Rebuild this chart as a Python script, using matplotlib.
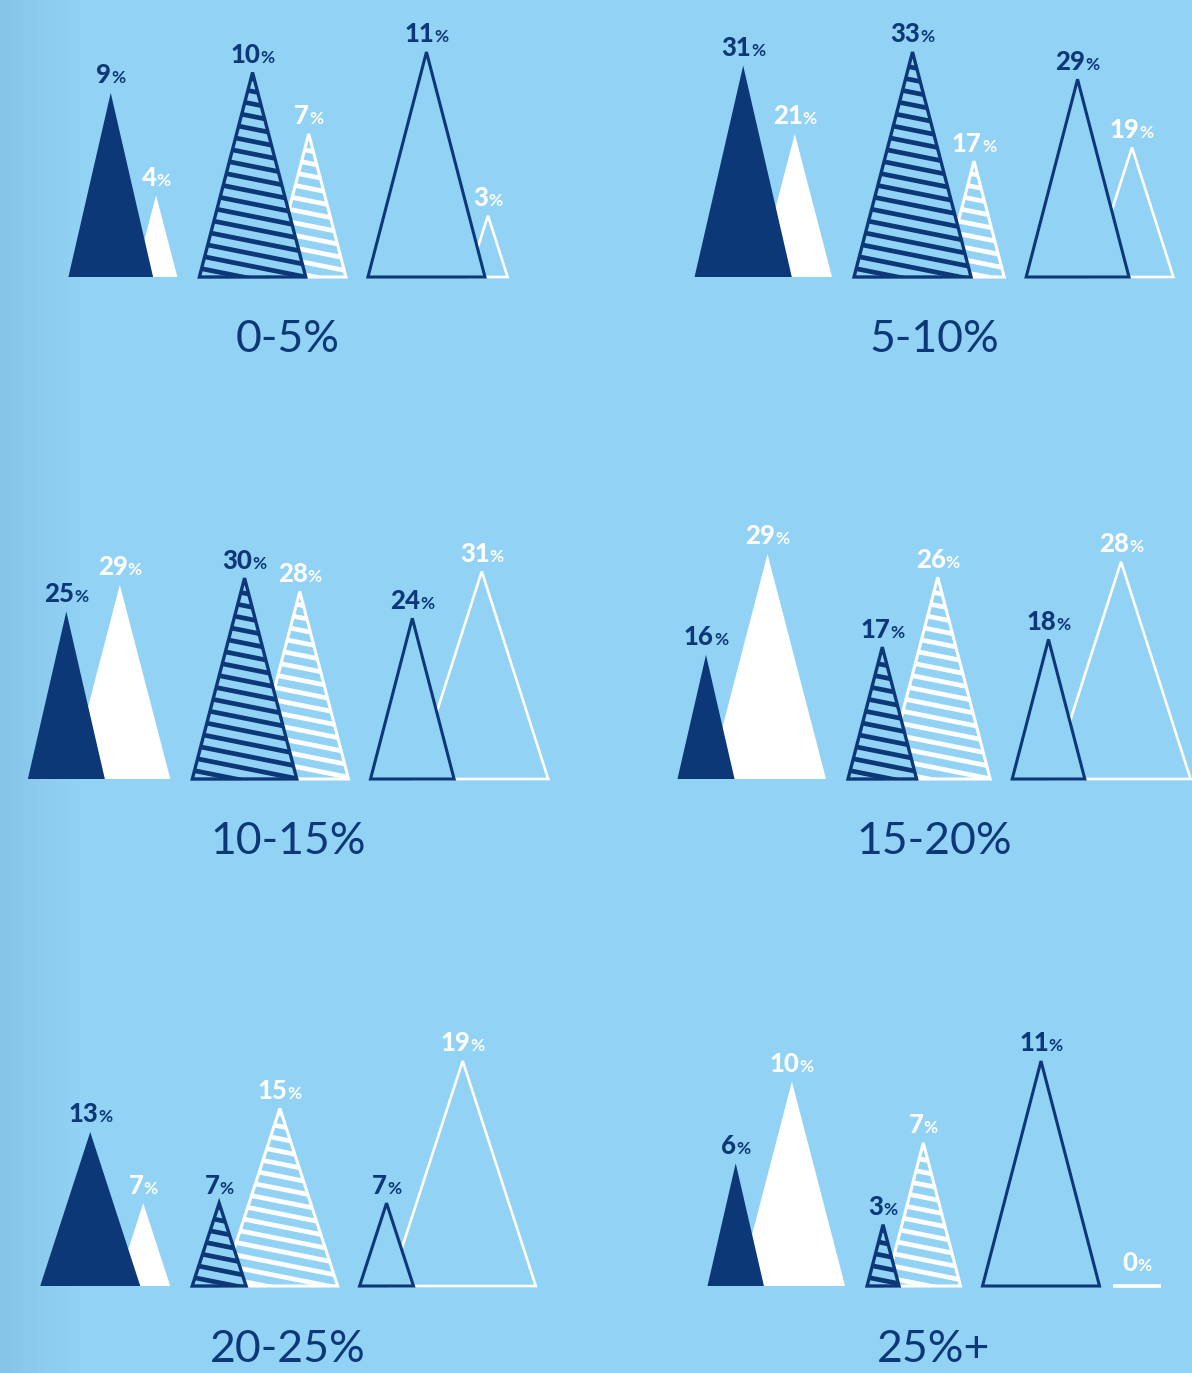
import numpy as np
import matplotlib
matplotlib.use("Agg")
import matplotlib.pyplot as plt
from matplotlib.patches import Polygon
from matplotlib.offsetbox import TextArea, HPacker, AnnotationBbox

# data: for each band, values for (navy, white) pairs in three styles
bands = ["0-5%", "5-10%", "10-15%", "15-20%", "20-25%", "25%+"]
navy_filled = [9, 31, 25, 16, 13, 6]
white_filled = [4, 21, 29, 29, 7, 10]
navy_hatched = [10, 33, 30, 17, 7, 3]
white_hatched = [7, 17, 28, 26, 15, 7]
navy_outline = [11, 29, 24, 18, 7, 11]
white_outline = [3, 19, 31, 28, 19, 0]

# value that reaches the full triangle height in each panel
scale_top = [11, 33, 33.6, 29, 19, 11]

NAVY = "#0C3878"
BG = "#92D2F4"
W, H = 1192, 1373

fig = plt.figure(figsize=(W / 100, H / 100), dpi=100)

# background with a slight gradient on the left edge
bg = fig.add_axes([0, 0, 1, 1], zorder=-10)
grad = np.ones((2, W, 3))
left = np.array([0x87, 0xC5, 0xE8]) / 255
right = np.array([0x92, 0xD2, 0xF4]) / 255
t = np.clip(np.arange(W) / 80.0, 0, 1)[:, None]
grad[:] = left * (1 - t) + right * t
bg.imshow(grad, aspect="auto", extent=[0, 1, 0, 1])
bg.axis("off")

col_x0 = [0, 596]
col_center = [288, 338]
base_px = [277, 779, 1286]
max_h = 225.0
gap = 22
ratios = {"filled": (0.46, 0.52), "hatched": (0.52, 0.52), "outline": (0.52, 0.64)}
wide_panels = {4: 0.65}

lab_num = dict(family=["Lato", "DejaVu Sans"], weight="black", size=18.5)
lab_pct = dict(family=["Lato", "DejaVu Sans"], weight="bold", size=12.5)


def label(ax, x, y, val, color):
    a = TextArea(str(val), textprops=dict(color=color, **lab_num))
    b = TextArea("%", textprops=dict(color=color, **lab_pct))
    box = HPacker(children=[a, b], align="baseline", pad=0, sep=0)
    ab = AnnotationBbox(box, (x, y), xybox=(0, 4), xycoords="data",
                        boxcoords="offset points", box_alignment=(0.5, 0),
                        frameon=False, zorder=10)
    ax.add_artist(ab)


def stripes(ax, patch, x0, x1, top, top_val, color, z):
    # slightly tilted stripes clipped to the triangle
    per_px = top_val / max_h
    step = 12.5 * per_px
    slope = 0.2 * per_px
    xs = np.array([x0 - 5, x1 + 5])
    c = -step * 0.3
    while c < top + slope * (x1 - x0) + step:
        ys = c - slope * (xs - x0)
        ln, = ax.plot(xs, ys, color=color, lw=3.4, solid_capstyle="butt", zorder=z)
        ln.set_clip_path(patch)
        c += step


for i, band in enumerate(bands):
    row, col = divmod(i, 2)
    pairs = [("filled", navy_filled[i], white_filled[i]),
             ("hatched", navy_hatched[i], white_hatched[i]),
             ("outline", navy_outline[i], white_outline[i])]
    top_val = scale_top[i]
    px = max_h / top_val

    # axes: x in pixels within the panel, y in value units
    below, above = 110, 290
    bottom_px = base_px[row] + below
    ax = fig.add_axes([col_x0[col] / W, 1 - bottom_px / H, 596 / W, (below + above) / H])
    ax.set_xlim(0, 596)
    ax.set_ylim(-below / px, above / px)
    ax.axis("off")

    # layout of the three groups
    geo = []
    cursor = 0
    for style, dv, wv in pairs:
        rd, rw = ratios[style]
        if i in wide_panels:
            rd = rw = wide_panels[i]
        wd = rd * dv * px
        ww = rw * wv * px
        d_apex = cursor + wd / 2
        d_right = cursor + wd
        if wv == 0:
            ww = 48
            w_apex = d_right + 13 + ww / 2
        else:
            w_apex = max(d_apex + ww / 2, d_right) + 3
        right_edge = max(d_right, w_apex + ww / 2)
        geo.append((style, dv, wv, cursor, wd, w_apex, ww))
        cursor = right_edge + gap
    span = cursor - gap
    shift = col_center[col] - span / 2

    for style, dv, wv, dl, wd, w_apex, ww in geo:
        dl += shift
        w_apex += shift
        d_apex = dl + wd / 2
        dtri = [(dl, 0), (d_apex, dv), (dl + wd, 0)]
        wtri = [(w_apex - ww / 2, 0), (w_apex, wv), (w_apex + ww / 2, 0)]

        if style == "filled":
            ax.add_patch(Polygon(wtri, closed=True, fc="white", ec="none", zorder=2))
            ax.add_patch(Polygon(dtri, closed=True, fc=NAVY, ec="none", zorder=4))
        elif style == "hatched":
            wp = Polygon(wtri, closed=True, fc="none", ec="none", zorder=2)
            ax.add_patch(wp)
            stripes(ax, wp, w_apex - ww / 2, w_apex + ww / 2, wv, top_val, "white", 2)
            ax.add_patch(Polygon(wtri, closed=True, fc="none", ec="white", lw=2.2,
                                 joinstyle="miter", zorder=3))
            ax.add_patch(Polygon(dtri, closed=True, fc=BG, ec="none", zorder=4))
            dp = Polygon(dtri, closed=True, fc="none", ec="none", zorder=4)
            ax.add_patch(dp)
            stripes(ax, dp, dl, dl + wd, dv, top_val, NAVY, 5)
            ax.add_patch(Polygon(dtri, closed=True, fc="none", ec=NAVY, lw=2.4,
                                 joinstyle="miter", zorder=6))
        else:
            if wv == 0:
                ax.plot([w_apex - ww / 2, w_apex + ww / 2], [0, 0], color="white",
                        lw=2.6, solid_capstyle="butt", zorder=3)
            else:
                ax.add_patch(Polygon(wtri, closed=True, fc="none", ec="white", lw=1.9,
                                     joinstyle="miter", zorder=3))
            ax.add_patch(Polygon(dtri, closed=True, fc=BG, ec=NAVY, lw=2.2,
                                 joinstyle="miter", zorder=5))

        label(ax, d_apex, dv, dv, NAVY)
        label(ax, w_apex, wv + (5 / px if wv == 0 else 0), wv, "white")

    ax.annotate(band, (col_center[col], 0), xytext=(0, -63 * 0.72),
                textcoords="offset points", ha="center", va="center",
                color=NAVY, fontsize=32, family=["Lato", "DejaVu Sans"],
                weight="normal")

fig.savefig("out.png", dpi=100)
